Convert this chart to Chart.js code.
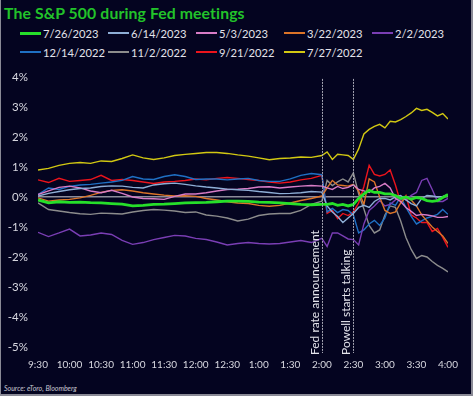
<!DOCTYPE html>
<html>
<head>
<meta charset="utf-8">
<script src="https://cdn.jsdelivr.net/npm/chart.js@4"></script>
<style>
  body { margin: 0; background: #040420; }
  .wrap {
    position: relative; width: 473px; height: 396px; background: #040420;
    box-shadow: inset 1px 0 #8a8a96, inset -2px 0 #8a8a96, inset 0 -2px #8a8a96;
    font-family: 'Lato', sans-serif; overflow: hidden;
  }
  .title { position: absolute; left: 4px; top: 3px; margin: 0; font: 700 15.8px 'Lato', sans-serif; color: #22c32a; letter-spacing: 0.1px; }
  .legend { position: absolute; left: 20px; top: 25px; width: 450px; display: grid; grid-template-columns: repeat(5, 88px); row-gap: 3px; }
  .item { display: flex; align-items: center; height: 16px; color: #e2e2ea; font-size: 11.2px; white-space: nowrap; }
  .item span.ln { display: inline-block; width: 21px; height: 2px; margin-right: 2px; }
  .source { position: absolute; left: 4px; top: 384px; font: italic 7px 'Lato', sans-serif; color: #c8c8d2; }
  canvas { position: absolute; left: 0; top: 60px; }
</style>
</head>
<body>
<div class="wrap">
  <div class="title">The S&amp;P 500 during Fed meetings</div>
  <div class="legend" id="legend"></div>
  <canvas id="grafico" width="473" height="320"></canvas>
  <div class="source">Source: eToro, Bloomberg</div>
</div>
<script>
// minutes after 9:30
const times = [0,10,20,30,40,50,60,70,80,90,100,110,120,130,140,150,160,170,180,190,200,210,220,230,240,250,260,270,
  275,280,285,290,295,300,305,310,315,320,325,330,335,340,345,350,355,360,365,370,375,380,385,390]
const tickLabels = ['9:30','10:00','10:30','11:00','11:30','12:00','12:30','1:00','1:30','2:00','2:30','3:00','3:30','4:00']
const eventTimes = [270, 300]
const eventLabels = ['Fed rate announcement', 'Powell starts talking']

const seriesNames = ['7/26/2023','6/14/2023','5/3/2023','3/22/2023','2/2/2023','12/14/2022','11/2/2022','9/21/2022','7/27/2022']

const jul26_2023 = [-0.1,-0.2,-0.16,-0.18,-0.17,-0.19,-0.2,-0.22,-0.24,-0.3,-0.28,-0.25,-0.24,-0.22,-0.2,-0.19,-0.18,-0.16,-0.14,-0.14,-0.15,-0.17,-0.18,-0.2,-0.22,-0.25,-0.26,-0.25,
  -0.25,-0.22,-0.28,-0.25,-0.3,-0.25,-0.05,0.1,0.22,0.15,0.15,0.1,0.1,0.05,-0.05,0.0,-0.08,-0.02,-0.05,-0.12,-0.15,-0.12,-0.02,0.08]
const jun14_2023 = [0.03,0.12,0.18,0.24,0.28,0.3,0.35,0.37,0.36,0.32,0.3,0.4,0.44,0.46,0.42,0.37,0.33,0.3,0.26,0.24,0.22,0.18,0.15,0.11,0.12,0.14,0.18,0.16,
  -0.3,-0.5,-0.65,-0.85,-0.7,-0.55,-0.35,-0.28,-0.35,-0.15,-0.05,-0.05,-0.1,0.0,0.05,-0.1,-0.22,-0.3,-0.05,0.05,0.03,0.0,0.02,0.08]
const may3_2023 = [0.08,0.2,0.32,0.36,0.3,0.2,0.14,0.22,0.12,0.0,-0.05,-0.06,-0.08,0.02,0.1,0.1,0.14,0.2,0.25,0.26,0.28,0.33,0.34,0.3,0.33,0.36,0.38,0.36,
  0.3,0.25,0.35,0.28,0.32,0.4,0.25,0.2,0.15,0.3,0.35,0.45,0.3,-0.05,-0.15,-0.35,-0.48,-0.62,-0.58,-0.6,-0.63,-0.68,-0.68,-0.65]
const mar22_2023 = [-0.03,-0.14,-0.1,-0.08,-0.03,0.05,0.15,0.22,0.24,0.2,0.14,0.1,0.06,0.03,0.04,0.02,-0.05,-0.1,-0.16,-0.2,-0.22,-0.28,-0.31,-0.28,-0.2,-0.12,-0.05,0.03,
  0.3,0.55,0.4,0.38,0.36,0.42,0.2,-0.25,0.6,0.5,0.0,-0.45,-0.55,-0.5,-0.2,0.0,-0.1,-0.3,-0.6,-0.8,-1.0,-1.15,-1.3,-1.55]
const feb2_2023 = [-1.18,-1.32,-1.2,-1.07,-1.3,-1.27,-1.2,-1.25,-1.45,-1.58,-1.52,-1.42,-1.35,-1.28,-1.3,-1.38,-1.42,-1.5,-1.6,-1.55,-1.52,-1.55,-1.57,-1.55,-1.5,-1.45,-1.52,-1.38,
  -1.65,-1.2,-1.2,-1.3,-1.4,-1.42,-1.6,-0.9,-0.45,-0.3,-0.12,-0.3,-0.25,-0.1,0.0,-0.1,0.05,0.15,0.55,0.62,0.25,-0.15,-0.15,-0.05]
const dec14_2022 = [0.08,0.3,0.25,0.35,0.4,0.42,0.46,0.5,0.55,0.68,0.6,0.58,0.68,0.74,0.68,0.58,0.6,0.6,0.57,0.6,0.62,0.55,0.52,0.52,0.6,0.72,0.78,0.74,
  -0.5,-0.38,-0.52,-0.42,-0.45,-0.6,-1.2,-1.1,-0.9,-0.78,-0.95,-0.7,-0.2,-0.28,0.0,-0.35,-0.65,-0.9,-0.8,-0.7,-0.65,-0.58,-0.42,-0.58]
const nov2_2022 = [-0.2,-0.42,-0.47,-0.52,-0.56,-0.58,-0.54,-0.55,-0.57,-0.5,-0.45,-0.42,-0.44,-0.47,-0.52,-0.5,-0.6,-0.64,-0.7,-0.8,-0.74,-0.62,-0.57,-0.55,-0.55,-0.45,-0.25,-0.14,
  0.55,0.38,0.5,0.6,0.5,0.8,0.1,-0.4,-0.95,-1.2,-1.1,-0.6,-0.3,-0.35,-0.8,-1.35,-1.75,-2.05,-1.95,-2.0,-2.15,-2.28,-2.38,-2.5]
const sep21_2022 = [0.57,0.48,0.62,0.52,0.55,0.58,0.72,0.55,0.58,0.55,0.5,0.45,0.5,0.52,0.55,0.6,0.57,0.62,0.65,0.62,0.58,0.55,0.5,0.46,0.5,0.57,0.62,0.72,
  -0.55,-0.45,-0.72,-0.55,-0.62,-0.5,-0.2,0.35,1.05,0.75,0.7,0.75,0.9,0.4,-0.2,0.05,-0.6,-0.7,-0.85,-0.85,-1.15,-1.05,-1.35,-1.68]
const jul27_2022 = [0.9,0.95,1.05,1.12,1.15,1.12,1.2,1.18,1.28,1.4,1.3,1.25,1.3,1.38,1.42,1.45,1.48,1.48,1.45,1.4,1.36,1.3,1.24,1.28,1.3,1.33,1.32,1.38,
  1.5,1.25,1.42,1.4,1.38,1.25,1.6,2.1,2.25,2.35,2.42,2.3,2.52,2.5,2.58,2.68,2.8,2.95,2.88,2.92,2.82,2.7,2.78,2.6]

const seriesValues = [jul26_2023, jun14_2023, may3_2023, mar22_2023, feb2_2023, dec14_2022, nov2_2022, sep21_2022, jul27_2022]
const seriesColors = ['#26e02a','#8eaed6','#d87cc6','#dc7428','#7a3eb4','#1f70c4','#8c8c8c','#ec141c','#d2c812']

// legenda
const legend = document.getElementById('legend')
for (let i = 0; i < seriesNames.length; i++) {
    const item = document.createElement('div')
    item.className = 'item'
    const ln = document.createElement('span')
    ln.className = 'ln'
    ln.style.background = seriesColors[i]
    if (i === 0) ln.style.height = '3px'
    item.appendChild(ln)
    item.appendChild(document.createTextNode(seriesNames[i]))
    legend.appendChild(item)
}

// linhas verticais dos eventos
const eventLines = {
    id: 'eventLines',
    afterDatasetsDraw(chart) {
        const { ctx, chartArea } = chart
        const x = chart.scales.x
        ctx.save()
        eventTimes.forEach((t, i) => {
            const px = Math.round(x.getPixelForValue(t)) + 0.5
            ctx.strokeStyle = '#a4a4b2'
            ctx.lineWidth = 1
            ctx.setLineDash([2, 1])
            ctx.beginPath()
            ctx.moveTo(px, chartArea.top + 2)
            ctx.lineTo(px, chartArea.bottom + 6)
            ctx.stroke()
            ctx.save()
            ctx.translate(px - 1.5, chartArea.bottom + 8)
            ctx.rotate(-Math.PI / 2)
            ctx.fillStyle = '#e4e4ec'
            ctx.font = '12px Lato'
            ctx.textAlign = 'left'
            ctx.textBaseline = 'bottom'
            ctx.fillText(eventLabels[i], 0, 0)
            ctx.restore()
        })
        ctx.restore()
    }
}

const datasets = seriesNames.map((name, i) => ({
    label: name,
    data: times.map((t, j) => ({ x: t, y: seriesValues[i][j] })),
    borderColor: seriesColors[i],
    borderWidth: i === 0 ? 2.8 : 1.4,
    pointRadius: 0,
    tension: 0,
    order: i
}))

const grafico = new Chart(document.getElementById('grafico').getContext('2d'), {
    type: 'line',
    data: { datasets: datasets },
    options: {
        responsive: false,
        animation: false,
        devicePixelRatio: 1,
        layout: { padding: { top: 13, right: 25, left: 0, bottom: 0 } },
        plugins: { legend: { display: false }, tooltip: { enabled: false } },
        scales: {
            x: {
                type: 'linear',
                min: 0,
                max: 390,
                afterFit: (s) => { s.height = 33 },
                ticks: {
                    stepSize: 30,
                    autoSkip: false,
                    maxRotation: 0,
                    padding: 4,
                    color: '#d8d8e0',
                    font: { family: 'Lato', size: 10 },
                    callback: (v) => tickLabels[v / 30]
                },
                grid: { display: false },
                border: { display: false }
            },
            y: {
                min: -5,
                max: 4,
                afterFit: (s) => { s.width = 38 },
                ticks: {
                    stepSize: 1,
                    padding: 10,
                    color: '#d8d8e0',
                    font: { family: 'Lato', size: 11.5 },
                    callback: (v) => v + '%'
                },
                grid: {
                    drawTicks: false,
                    color: (c) => c.tick && c.tick.value === 0 ? '#8c8c9a' : 'transparent',
                    lineWidth: 1.5
                },
                border: { display: false }
            }
        }
    },
    plugins: [eventLines]
})
</script>
</body>
</html>
